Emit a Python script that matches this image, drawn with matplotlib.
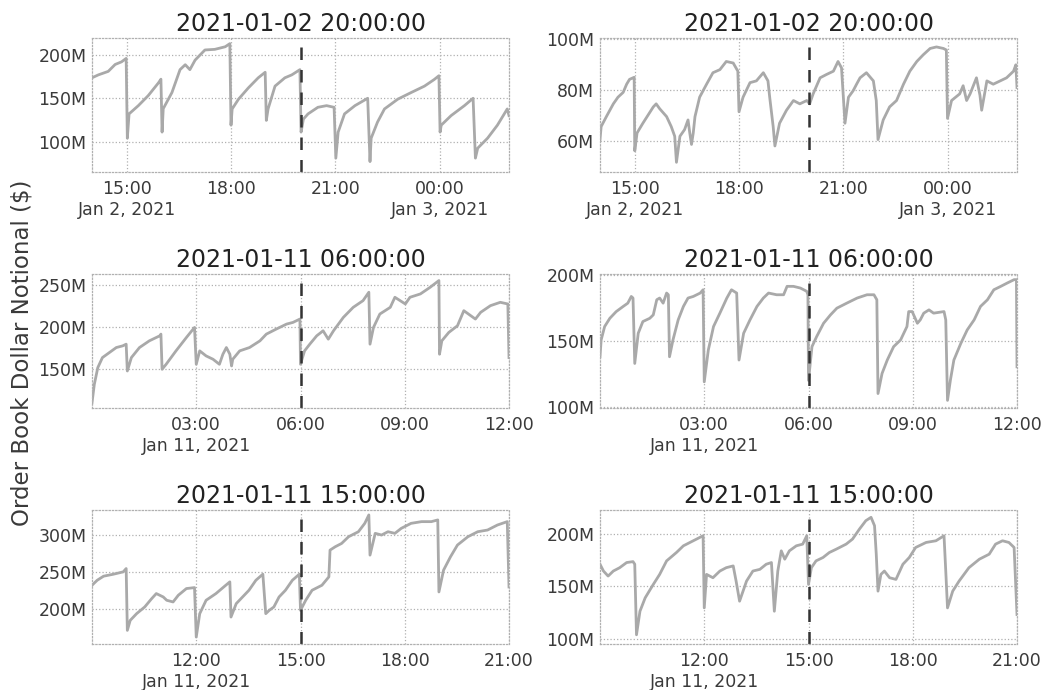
import matplotlib
matplotlib.use("Agg")
import matplotlib.pyplot as plt
from matplotlib.ticker import FuncFormatter
import pandas as pd

# event time marked in the middle of each row
events = ["2021-01-02 20:00:00", "2021-01-11 06:00:00", "2021-01-11 15:00:00"]

# order book notional, millions of $ -- left column
tl_times = ["14:00", "14:11", "14:28", "14:40", "14:51", "14:59", "15:01", "15:04", "15:20", "15:37",
            "15:55", "15:59", "16:01", "16:03", "16:18", "16:32", "16:41", "16:49", "16:58", "17:15",
            "17:32", "17:50", "17:58", "18:00", "18:02", "18:13", "18:30", "18:47", "18:59", "19:01",
            "19:04", "19:16", "19:33", "19:45", "19:59", "20:01", "20:05", "20:13", "20:30", "20:45",
            "20:58", "21:01", "21:05", "21:16", "21:34", "21:56", "22:00", "22:02", "22:13", "22:25",
            "22:48", "23:11", "23:34", "23:51", "23:59", "00:01", "00:03", "00:20", "00:43", "00:58",
            "01:02", "01:06", "01:23", "01:40", "01:57", "02:00"]
tl_vals = [173.6, 177, 181, 189, 192, 196, 104, 132, 141.5, 153,
           168, 172, 111, 138, 156.6, 183, 188.7, 183, 194, 205.7,
           206.4, 209.4, 213, 119, 137.7, 149, 162, 173.6, 180, 124.5,
           137.7, 164, 173.6, 177, 183, 111, 126, 132, 139.6, 141.5,
           139.6, 81, 111, 132, 141.5, 150, 77, 104, 122.6, 137.7,
           149, 156.6, 164, 171.7, 176, 111, 119, 130, 141.5, 150,
           81, 92.5, 104, 119, 137.7, 130]

ml_times = ["00:00", "00:04", "00:10", "00:18", "00:30", "00:42", "00:53", "00:59", "01:01", "01:08",
            "01:22", "01:39", "01:57", "01:59", "02:01", "02:08", "02:25", "02:43", "02:57", "03:00",
            "03:06", "03:17", "03:29", "03:40", "03:46", "03:52", "03:58", "04:01", "04:03", "04:15",
            "04:32", "04:50", "05:01", "05:18", "05:36", "05:47", "05:59", "06:00", "06:07", "06:16",
            "06:28", "06:39", "06:48", "06:57", "07:14", "07:31", "07:48", "07:58", "08:00", "08:06",
            "08:17", "08:35", "08:43", "08:52", "09:01", "09:09", "09:27", "09:44", "09:59", "10:00",
            "10:04", "10:16", "10:31", "10:42", "10:54", "11:02", "11:11", "11:28", "11:45", "11:58",
            "12:00"]
ml_vals = [109.2, 131.2, 151.2, 163.2, 169.2, 175.2, 177.2, 179.2, 147.2, 163.2,
           175.2, 183.2, 189.2, 191.2, 149.2, 155.2, 171.2, 187.2, 199.2, 155.2,
           171.2, 165.2, 161.2, 155.2, 167.2, 175.2, 167.2, 153.2, 161.2, 171.2,
           175.2, 183.2, 191.2, 197.2, 203.2, 205.2, 209.2, 155.2, 171.2, 179.2,
           189.2, 195.2, 185.2, 195.2, 211.2, 223.2, 231.2, 241.2, 179.2, 199.2,
           215.2, 223.2, 235.2, 231.2, 227.2, 235.2, 239.2, 247.2, 255.2, 167.2,
           183.2, 193.2, 201.2, 219.2, 213.2, 209.2, 217.2, 225.2, 229.2, 227.2,
           163.2]

bl_times = ["09:00", "09:09", "09:20", "09:37", "09:54", "09:59", "10:01", "10:06", "10:17", "10:31",
            "10:43", "10:51", "11:03", "11:09", "11:20", "11:29", "11:43", "11:57", "12:00", "12:06",
            "12:17", "12:34", "12:51", "12:58", "13:00", "13:09", "13:20", "13:31", "13:43", "13:55",
            "14:00", "14:06", "14:14", "14:23", "14:34", "14:46", "14:58", "15:00", "15:09", "15:20",
            "15:37", "15:49", "15:51", "16:00", "16:11", "16:23", "16:40", "16:51", "16:58", "17:00",
            "17:09", "17:20", "17:31", "17:43", "17:54", "18:11", "18:29", "18:46", "18:57", "18:59",
            "19:07", "19:19", "19:31", "19:49", "20:06", "20:23", "20:40", "20:57", "21:00"]
bl_vals = [231.8, 238.6, 244.1, 246.8, 250, 254.5, 170.5, 184.1, 193.2, 202.3,
           213.6, 220.5, 215.9, 211.4, 209.1, 218.2, 227.3, 228.6, 161.4, 193.2,
           211.4, 220.5, 231.8, 236.4, 188.6, 206.8, 215.9, 225, 238.6, 246.8,
           193.2, 197.7, 202.3, 215.9, 225, 238.6, 246.8, 197.7, 211.4, 225,
           231.8, 243.2, 279.5, 284.1, 288.6, 297.7, 304.5, 315.9, 327.3, 272.7,
           302.3, 300, 304.5, 302.3, 309.1, 315.9, 318.2, 318.2, 320.5, 222.7,
           252.3, 270.5, 286.4, 297.7, 304.5, 306.8, 313.6, 318.2, 229.5]

# right column
tr_times = ["14:00", "14:02", "14:11", "14:23", "14:31", "14:40", "14:46", "14:51", "14:57", "14:59",
            "15:00", "15:04", "15:14", "15:23", "15:32", "15:37", "15:43", "15:55", "16:03", "16:09",
            "16:12", "16:18", "16:26", "16:32", "16:35", "16:38", "16:41", "16:44", "16:52", "17:04",
            "17:15", "17:27", "17:38", "17:50", "17:58", "18:00", "18:07", "18:19", "18:30", "18:42",
            "18:50", "18:53", "18:59", "19:02", "19:10", "19:22", "19:34", "19:45", "19:57", "20:02",
            "20:08", "20:20", "20:31", "20:43", "20:51", "20:57", "21:03", "21:09", "21:17", "21:23",
            "21:29", "21:40", "21:52", "21:57", "22:00", "22:09", "22:20", "22:32", "22:44", "22:55",
            "23:07", "23:18", "23:30", "23:41", "23:53", "23:58", "00:00", "00:07", "00:21", "00:27",
            "00:33", "00:39", "00:50", "00:56", "00:59", "01:08", "01:19", "01:31", "01:42", "01:54",
            "01:58", "02:00"]
tr_vals = [60.6, 65.7, 69.6, 74.6, 77.2, 79.1, 82.3, 84.2, 84.8, 85,
           56.2, 63.2, 67, 70.2, 73.4, 74.6, 72.7, 69.6, 65.7, 61.9,
           51.7, 61.9, 64.5, 68.3, 63.2, 58.7, 63.2, 69.6, 77.2, 82.3,
           86.8, 88, 91.2, 90.6, 87.4, 71.5, 77.2, 82.9, 83.6, 86.8,
           83.6, 77.2, 65.7, 58.1, 67, 72.1, 75.9, 74.6, 75.9, 74.6,
           78.5, 84.8, 86.1, 87.4, 91.2, 88.7, 67, 77.2, 79.7, 82.3,
           84.8, 86.8, 83.6, 75.9, 60.6, 68.3, 73.4, 75.9, 82.3, 87.4,
           91.2, 93.8, 96.3, 96.9, 96.3, 95.7, 68.9, 75.9, 78.5, 81.7,
           75.9, 78.5, 84.8, 78, 72.1, 83.6, 82.3, 83.6, 84.8, 87.4,
           89.9, 81]

mr_times = ["00:00", "00:02", "00:08", "00:17", "00:28", "00:40", "00:48", "00:54", "00:57", "01:00",
            "01:06", "01:14", "01:26", "01:32", "01:38", "01:43", "01:49", "01:55", "01:58", "02:00",
            "02:06", "02:15", "02:24", "02:32", "02:41", "02:53", "02:58", "03:00", "03:07", "03:16",
            "03:27", "03:39", "03:47", "03:56", "04:00", "04:08", "04:19", "04:31", "04:42", "04:51",
            "05:05", "05:17", "05:23", "05:34", "05:46", "05:57", "05:59", "06:00", "06:06", "06:14",
            "06:26", "06:38", "06:49", "07:06", "07:24", "07:41", "07:53", "07:58", "08:00", "08:07",
            "08:16", "08:27", "08:39", "08:50", "08:53", "08:59", "09:08", "09:13", "09:19", "09:28",
            "09:36", "09:54", "09:57", "10:00", "10:05", "10:11", "10:23", "10:34", "10:46", "10:57",
            "11:09", "11:20", "11:32", "11:43", "11:55", "11:59", "12:00"]
mr_vals = [138, 150.8, 161, 167.3, 172.4, 176.3, 178.8, 183.9, 182.7, 132.9,
           155.9, 164.8, 167.3, 169.9, 181.4, 182.7, 178.8, 186.5, 185.2, 138,
           150.8, 166.1, 176.3, 182.7, 183.9, 186.5, 189, 118.9, 143.1, 161,
           171.2, 182.7, 189, 186.5, 135.5, 155.9, 166.1, 176.3, 182.7, 186.5,
           185.2, 185.2, 191.6, 191.6, 190.3, 187.8, 185.2, 120, 145.7, 153.3,
           163.5, 169.9, 175, 178.8, 182.7, 185.2, 185.2, 181.4, 110, 125.3,
           135.5, 145.7, 150.8, 161, 172.4, 172.4, 163.5, 166.1, 171.2, 173.7,
           171.2, 172.4, 166.1, 104.8, 120.2, 135.5, 148.2, 158.4, 166.1, 176.3,
           181.4, 189, 191.6, 194.1, 196.7, 196.7, 130.4]

br_times = ["09:00", "09:06", "09:14", "09:23", "09:34", "09:46", "09:57", "10:00", "10:03", "10:09",
            "10:18", "10:32", "10:43", "10:55", "11:12", "11:24", "11:41", "11:58", "12:00", "12:04",
            "12:15", "12:27", "12:38", "12:50", "12:55", "13:01", "13:13", "13:24", "13:36", "13:47",
            "13:56", "14:01", "14:07", "14:13", "14:19", "14:27", "14:39", "14:50", "14:57", "15:00",
            "15:05", "15:13", "15:25", "15:36", "15:48", "16:05", "16:16", "16:28", "16:39", "16:48",
            "16:54", "16:57", "17:00", "17:05", "17:11", "17:20", "17:31", "17:43", "17:54", "18:05",
            "18:23", "18:40", "18:54", "18:57", "19:00", "19:09", "19:20", "19:37", "19:55", "20:12",
            "20:23", "20:35", "20:46", "20:55", "21:00"]
br_vals = [171.2, 164.7, 159.9, 164.7, 167.9, 172.8, 173.7, 171.2, 103.8, 126.3,
           139.1, 151.9, 161.5, 174.4, 182.4, 188.8, 193.6, 198.4, 129.5, 161.5,
           158.3, 164.7, 167.9, 169.6, 155.1, 135.9, 155.1, 164.7, 166.3, 171.2,
           172.8, 126.3, 164.7, 184, 176, 184, 188.8, 190.4, 198.4, 151.9,
           167.9, 174.4, 177.6, 182.4, 185.6, 190.4, 195.2, 204.8, 212.8, 216,
           208, 180.8, 145.5, 161.5, 164.7, 158.3, 156.7, 171.2, 177.6, 187.2,
           192, 193.6, 198.4, 164.7, 129.5, 145.5, 155.1, 167.9, 176, 180.8,
           190.4, 193.6, 192, 187.2, 123.1]

ylims = [[(65, 219.5), (47.9, 100.4)],
         [(103, 263), (99, 201)],
         [(152, 334), (95, 223)]]
yticks = [[[100, 150, 200], [60, 80, 100]],
          [[150, 200, 250], [100, 150, 200]],
          [[200, 250, 300], [100, 150, 200]]]


def to_datetimes(day, hhmm):
    # times are given as HH:MM, roll over to the next day after midnight
    start = pd.Timestamp(day)
    out = []
    days = 0
    prev = None
    for s in hhmm:
        h, m = s.split(":")
        mins = int(h) * 60 + int(m)
        if prev is not None and mins < prev:
            days += 1
        prev = mins
        out.append(start + pd.Timedelta(days=days, minutes=mins))
    return out


def tick_labels(ticks):
    # plotly style: date under the first tick and on each new day
    labels = []
    last_day = None
    for t in ticks:
        lab = t.strftime("%H:%M")
        if t.date() != last_day:
            lab += "\n{} {}, {}".format(t.strftime("%b"), t.day, t.year)
            last_day = t.date()
        labels.append(lab)
    return labels


series = [[(tl_times, tl_vals), (tr_times, tr_vals)],
          [(ml_times, ml_vals), (mr_times, mr_vals)],
          [(bl_times, bl_vals), (br_times, br_vals)]]

W, H = 1042, 690
fig = plt.figure(figsize=(W / 100, H / 100), dpi=100)
fig.patch.set_facecolor("white")

col_left = [92, 600]
row_top = [38, 274, 510]
ax_w, ax_h = 417, 134

for r, event in enumerate(events):
    center = pd.Timestamp(event)
    start = center - pd.Timedelta(hours=6)
    for c in range(2):
        times, vals = series[r][c]
        ax = fig.add_axes([col_left[c] / W, 1 - (row_top[r] + ax_h) / H, ax_w / W, ax_h / H])

        xs = to_datetimes(start.normalize(), times)
        ax.plot(xs, vals, color="#a9a9a9", lw=2.0, solid_joinstyle="round")
        ax.axvline(center, color="#333333", lw=1.8, linestyle=(0, (5, 4)))

        ax.set_xlim(start, center + pd.Timedelta(hours=6))
        ax.set_ylim(*ylims[r][c])

        # every 3 hours, the tick on the left edge is left out
        ticks = [start + pd.Timedelta(hours=h) for h in range(1, 13)
                 if (start + pd.Timedelta(hours=h)).hour % 3 == 0]
        ax.set_xticks(ticks)
        ax.set_xticklabels(tick_labels(ticks))
        ax.set_yticks(yticks[r][c])
        ax.yaxis.set_major_formatter(FuncFormatter(lambda v, p: "{:.0f}M".format(v)))

        ax.tick_params(length=0, labelsize=12.5, colors="#3a3a3a", pad=6)
        ax.tick_params(axis="y", pad=4)
        ax.grid(True, color="#b0b0b0", linestyle=":", lw=0.9)
        for sp in ax.spines.values():
            sp.set_color("#b0b0b0")
            sp.set_linestyle(":")
            sp.set_linewidth(0.9)
        ax.set_title(event, fontsize=17, color="#222222", pad=5)

fig.text(22 / W, 1 - 353 / H, "Order Book Dollar Notional ($)", rotation=90,
         fontsize=16.5, color="#3a3a3a", ha="center", va="center")

fig.savefig("out.png", dpi=100, facecolor="white")
